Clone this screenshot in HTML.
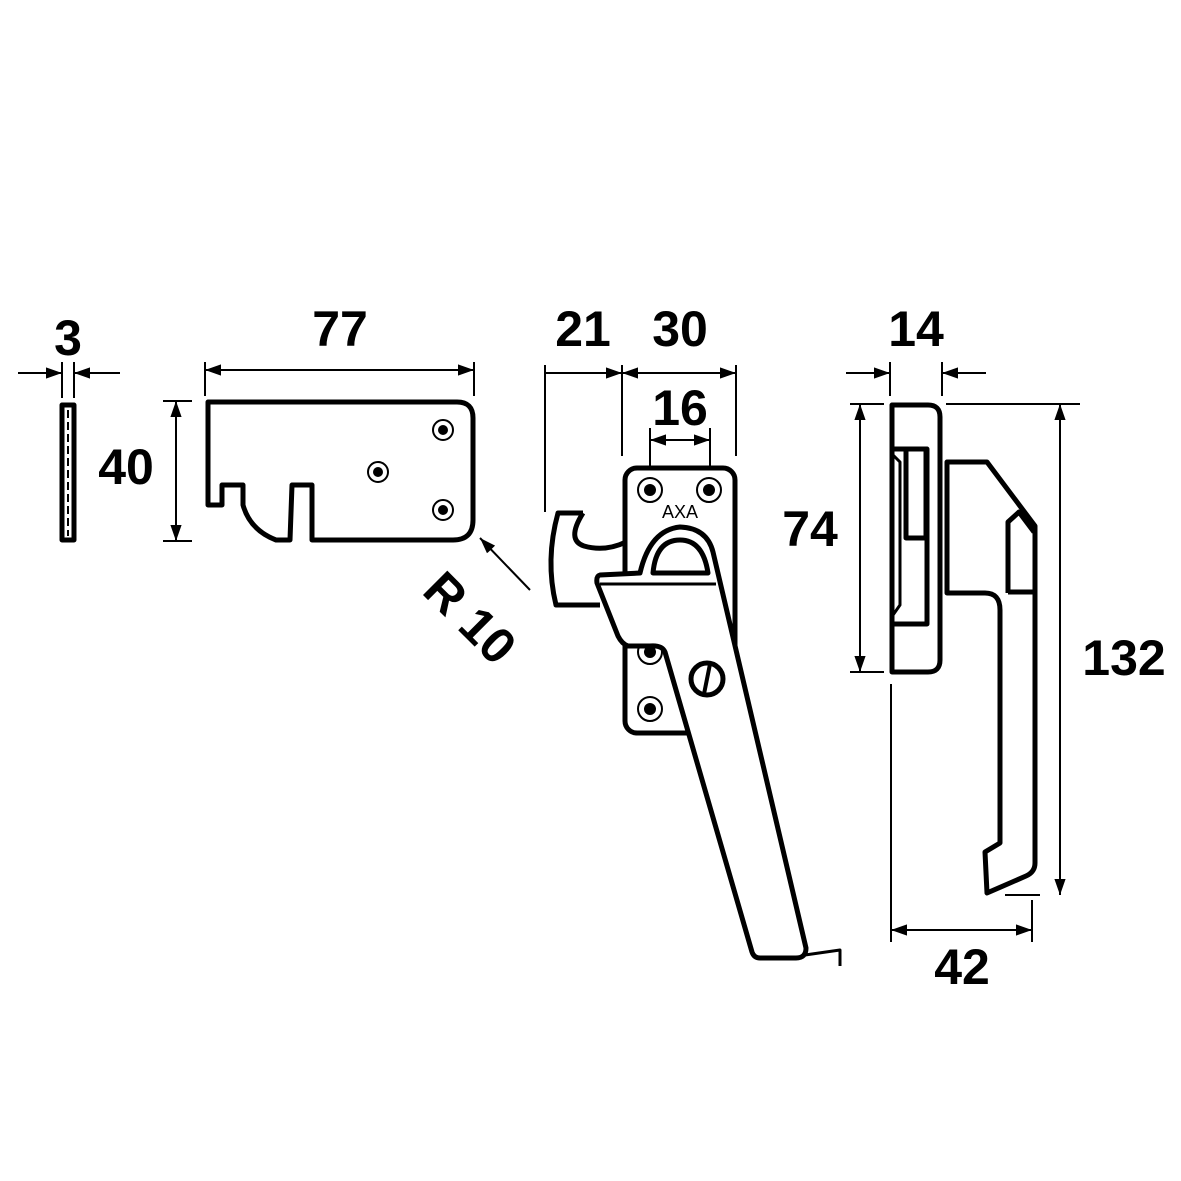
<!DOCTYPE html>
<html><head><meta charset="utf-8"><style>html,body{margin:0;padding:0;background:#fff}svg{display:block}</style></head>
<body>
<svg width="1181" height="1181" viewBox="0 0 1181 1181" xmlns="http://www.w3.org/2000/svg">
<defs>
<marker id="a" viewBox="0 0 10 10" refX="10" refY="5" markerWidth="16" markerHeight="16" markerUnits="userSpaceOnUse" orient="auto"><path d="M0,1.5 L10,5 L0,8.5 Z" fill="#000"/></marker>
</defs>
<g fill="none" stroke="#000" stroke-width="2">
<line x1="62" y1="362" x2="62" y2="398"/><line x1="74" y1="362" x2="74" y2="398"/>
<line x1="18" y1="373" x2="62" y2="373" marker-end="url(#a)"/><line x1="120" y1="373" x2="74" y2="373" marker-end="url(#a)"/>
<line x1="163" y1="401" x2="192" y2="401"/><line x1="163" y1="541" x2="192" y2="541"/>
<line x1="176" y1="470" x2="176" y2="401" marker-end="url(#a)"/><line x1="176" y1="470" x2="176" y2="541" marker-end="url(#a)"/>
<line x1="205" y1="362" x2="205" y2="396"/><line x1="474" y1="362" x2="474" y2="396"/>
<line x1="340" y1="370" x2="205" y2="370" marker-end="url(#a)"/><line x1="340" y1="370" x2="474" y2="370" marker-end="url(#a)"/>
<line x1="530" y1="590" x2="480" y2="538" marker-end="url(#a)"/>
<line x1="545" y1="365" x2="545" y2="512"/><line x1="622" y1="365" x2="622" y2="456"/><line x1="736" y1="365" x2="736" y2="456"/>
<line x1="545" y1="373" x2="622" y2="373" marker-end="url(#a)"/><line x1="680" y1="373" x2="622" y2="373" marker-end="url(#a)"/><line x1="680" y1="373" x2="736" y2="373" marker-end="url(#a)"/>
<line x1="650" y1="428" x2="650" y2="485"/><line x1="710" y1="428" x2="710" y2="485"/>
<line x1="680" y1="440" x2="650" y2="440" marker-end="url(#a)"/><line x1="680" y1="440" x2="710" y2="440" marker-end="url(#a)"/>
<line x1="890" y1="362" x2="890" y2="396"/><line x1="942" y1="362" x2="942" y2="396"/>
<line x1="846" y1="373" x2="890" y2="373" marker-end="url(#a)"/><line x1="986" y1="373" x2="942" y2="373" marker-end="url(#a)"/>
<line x1="850" y1="404" x2="884" y2="404"/><line x1="850" y1="672" x2="884" y2="672"/>
<line x1="860" y1="540" x2="860" y2="404" marker-end="url(#a)"/><line x1="860" y1="540" x2="860" y2="672" marker-end="url(#a)"/>
<line x1="946" y1="404" x2="1080" y2="404"/><line x1="1005" y1="895" x2="1040" y2="895"/>
<line x1="1060" y1="650" x2="1060" y2="404" marker-end="url(#a)"/><line x1="1060" y1="650" x2="1060" y2="895" marker-end="url(#a)"/>
<line x1="891" y1="684" x2="891" y2="942"/><line x1="1032" y1="900" x2="1032" y2="942"/>
<line x1="960" y1="930" x2="891" y2="930" marker-end="url(#a)"/><line x1="960" y1="930" x2="1032" y2="930" marker-end="url(#a)"/>
</g>
<g fill="none" stroke="#000" stroke-width="5" stroke-linejoin="round">
<rect x="62" y="405" width="12" height="135"/>
<line x1="68" y1="410" x2="68" y2="536" stroke-width="2" stroke-dasharray="8,4"/>
<path d="M208,402 L457,402 Q473,402 473,418 L473,520 Q473,540 453,540 L312,540 L312,485 L292,485 L290,540 L276,540 Q250,530 243,505 L243,485 L222,485 L222,505 L208,505 Z"/>
<!-- hook -->
<path d="M583,513 L558,513 Q545,560 556,605 L600,605 M583,513 Q566,540 584,546 Q605,552 626,542"/>
<!-- plate -->
<rect x="625" y="468" width="110" height="265" rx="12" fill="#fff"/>
</g>
<g fill="none" stroke="#000" stroke-width="2">
<circle cx="650" cy="490" r="12"/><circle cx="709" cy="490" r="12"/><circle cx="650" cy="709" r="12"/><circle cx="650" cy="652" r="12"/>
</g>
<g fill="#000">
<circle cx="443" cy="430" r="5"/><circle cx="378" cy="472" r="5"/><circle cx="443" cy="510" r="5"/>
<circle cx="650" cy="490" r="6"/><circle cx="709" cy="490" r="6"/><circle cx="650" cy="709" r="6"/><circle cx="650" cy="652" r="6"/>
</g>
<g fill="none" stroke="#000" stroke-width="2">
<circle cx="443" cy="430" r="10"/><circle cx="378" cy="472" r="10"/><circle cx="443" cy="510" r="10"/>
</g>
<g fill="none" stroke="#000" stroke-width="5" stroke-linejoin="round">
<!-- lever -->
<path fill="#fff" d="M600,575 L640,573 Q650,530 680,527 Q707,528 713,552 L806,948 Q806,958 796,958 L760,958 Q754,958 752,952 L665,652 Q662,645 650,646 L628,646 Q622,644 618,636 L597,583 Q596,576 600,575 Z"/>
<path d="M653,573 Q656,540 680,540 Q703,540 708,573 Z"/>
<line x1="600" y1="584" x2="716" y2="584" stroke-width="3"/>
<path d="M805,955 L840,950 L840,966" stroke-width="3"/>
<!-- side view -->
<path d="M892,405 L928,405 Q940,405 940,417 L940,660 Q940,672 928,672 L892,672 Z"/>
<rect x="892" y="449" width="35" height="175"/>
<rect x="906" y="449" width="20" height="89"/>
<path d="M893,455 L900,462 L900,605 L893,615" stroke-width="3"/>
<path d="M947,462 L987,462 L1035,526 L1035,863 Q1035,872 1026,876 L987,893 L985,852 L1000,843 L1000,610 Q1000,593 985,593 L947,593 Z"/>
<path d="M1008,593 L1008,522 L1019,512 L1034,532"/>
<line x1="1008" y1="592" x2="1034" y2="592"/>
</g>
<circle cx="707" cy="679" r="16" fill="none" stroke="#000" stroke-width="5"/>
<line x1="710" y1="664" x2="704" y2="694" stroke="#000" stroke-width="4"/>
<g font-family="Liberation Sans, sans-serif" font-weight="bold" font-size="50" text-anchor="middle" fill="#000">
<text x="68" y="355">3</text>
<text x="126" y="484">40</text>
<text x="340" y="346">77</text>
<text x="583" y="346">21</text>
<text x="680" y="346">30</text>
<text x="680" y="425">16</text>
<text x="916" y="346">14</text>
<text x="810" y="546">74</text>
<text x="1124" y="675">132</text>
<text x="962" y="984">42</text>
<text transform="translate(470,618) rotate(45)" x="0" y="17">R 10</text>
</g>
<text x="680" y="518" font-family="Liberation Sans, sans-serif" font-size="18" text-anchor="middle" fill="#000">AXA</text>
</svg>
</body></html>
